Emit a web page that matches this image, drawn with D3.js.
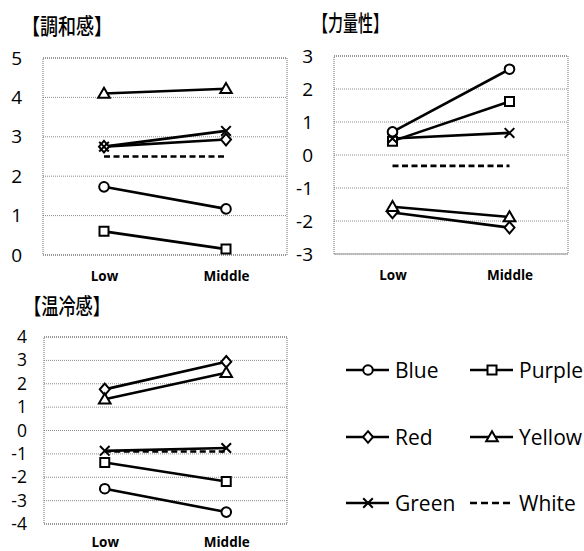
<!DOCTYPE html>
<html>
<head>
<meta charset="utf-8">
<script src="https://cdn.jsdelivr.net/npm/d3@7"></script>
<style>
  html, body { margin: 0; padding: 0; background: #fff; }
  svg { display: block; }
</style>
</head>
<body>
<svg id="chart" width="584" height="551"></svg>
<script>
// ---------- data ----------
const categories = ["Low", "Middle"];
const seriesNames = ["Blue", "Purple", "Red", "Yellow", "Green", "White"];
const seriesMarkers = ["circle", "square", "diamond", "triangle", "cross", "none"];

// values per series (order as seriesNames), [Low, Middle]
const harmonyValues = [[1.73, 1.17], [0.60, 0.15], [2.75, 2.93], [4.10, 4.22], [2.75, 3.15], [2.50, 2.50]];
const potencyValues = [[0.70, 2.60], [0.42, 1.62], [-1.74, -2.20], [-1.57, -1.88], [0.50, 0.67], [-0.33, -0.33]];
const warmthValues  = [[-2.49, -3.49], [-1.37, -2.18], [1.76, 2.94], [1.34, 2.47], [-0.87, -0.75], [-0.90, -0.90]];

const harmonyTicks = [0, 1, 2, 3, 4, 5];
const potencyTicks = [-3, -2, -1, 0, 1, 2, 3];
const warmthTicks  = [-4, -3, -2, -1, 0, 1, 2, 3, 4];

const titles = ["【調和感】", "【力量性】", "【温冷感】"];

// ---------- layout ----------
const svg = d3.select("#chart");

const panels = [
  { title: titles[0], values: harmonyValues, ticks: harmonyTicks, tickFont: 19, xLabelY: 26,
    x0: 43, x1: 287, y0: 58, y1: 255, labelPad: 21, titleX: 22, titleY: 34, titleW: 90 },
  { title: titles[1], values: potencyValues, ticks: potencyTicks, tickFont: 19, xLabelY: 26,
    x0: 334, x1: 568, y0: 56, y1: 254, labelPad: 21, titleX: 313, titleY: 31, titleW: 75 },
  { title: titles[2], values: warmthValues, ticks: warmthTicks, tickFont: 17.5, xLabelY: 23,
    x0: 44, x1: 287, y0: 337, y1: 524, labelPad: 17, titleX: 24, titleY: 314, titleW: 86 }
];

function markerPath(type, cx, cy) {
  const p = d3.path();
  if (type === "circle") {
    p.moveTo(cx + 4.8, cy); p.arc(cx, cy, 4.8, 0, 2 * Math.PI);
  } else if (type === "square") {
    p.rect(cx - 4.5, cy - 4.5, 9, 9);
  } else if (type === "diamond") {
    p.moveTo(cx, cy - 5.8); p.lineTo(cx + 5, cy); p.lineTo(cx, cy + 5.8); p.lineTo(cx - 5, cy); p.closePath();
  } else if (type === "triangle") {
    p.moveTo(cx, cy - 5.8); p.lineTo(cx + 5.8, cy + 4.2); p.lineTo(cx - 5.8, cy + 4.2); p.closePath();
  } else if (type === "cross") {
    p.moveTo(cx - 4.8, cy - 4.8); p.lineTo(cx + 4.8, cy + 4.8);
    p.moveTo(cx + 4.8, cy - 4.8); p.lineTo(cx - 4.8, cy + 4.8);
  }
  return p.toString();
}

panels.forEach(pn => {
  const g = svg.append("g");
  const x = d3.scalePoint().domain(categories).range([pn.x0, pn.x1]).padding(0.5);
  const y = d3.scaleLinear().domain(d3.extent(pn.ticks)).range([pn.y1, pn.y0]);

  // gridlines
  g.selectAll("line.grid").data(pn.ticks).enter().append("line")
    .attr("x1", pn.x0).attr("x2", pn.x1)
    .attr("y1", d => y(d)).attr("y2", d => y(d))
    .attr("stroke", "#8a8a8a").attr("stroke-width", 1).attr("stroke-dasharray", "1,1");
  // frame
  g.append("rect").attr("x", pn.x0).attr("y", pn.y0)
    .attr("width", pn.x1 - pn.x0).attr("height", pn.y1 - pn.y0)
    .attr("fill", "none").attr("stroke", "#6a6a6a").attr("stroke-width", 1).attr("stroke-dasharray", "1,1");

  // y axis labels
  const ya = g.append("g").attr("transform", `translate(${pn.x0},0)`)
    .call(d3.axisLeft(y).tickValues(pn.ticks).tickSize(0).tickPadding(pn.labelPad)
      .tickFormat(d => (d < 0 ? "-" : "") + Math.abs(d)));
  ya.select(".domain").remove();
  ya.selectAll("text").attr("font-family", "'Open Sans', sans-serif").attr("font-size", pn.tickFont).attr("fill", "#000");

  // x axis labels
  const xa = g.append("g").attr("transform", `translate(0,${pn.y1})`)
    .call(d3.axisBottom(x).tickSize(0));
  xa.select(".domain").remove();
  xa.selectAll("text").attr("y", pn.xLabelY).attr("dy", 0)
    .attr("font-family", "'Open Sans', sans-serif").attr("font-size", 13.5).attr("font-weight", "bold").attr("fill", "#000");

  // title
  g.append("text").attr("x", pn.titleX).attr("y", pn.titleY)
    .attr("font-family", "'Noto Sans CJK JP', sans-serif").attr("font-size", 22).attr("font-weight", 500)
    .attr("textLength", pn.titleW).attr("lengthAdjust", "spacingAndGlyphs")
    .text(pn.title);

  // lines
  const line = d3.line().x((d, i) => x(categories[i])).y(d => y(d));
  pn.values.forEach((vals, si) => {
    g.append("path").attr("d", line(vals)).attr("fill", "none")
      .attr("stroke", "#000").attr("stroke-width", 2.6)
      .attr("stroke-dasharray", seriesNames[si] === "White" ? "6,3.5" : null);
  });
  // markers
  pn.values.forEach((vals, si) => {
    const type = seriesMarkers[si];
    if (type === "none") return;
    vals.forEach((v, i) => {
      g.append("path").attr("d", markerPath(type, x(categories[i]), y(v)))
        .attr("fill", type === "cross" ? "none" : "#fff")
        .attr("stroke", "#000").attr("stroke-width", 2);
    });
  });
});

// ---------- legend ----------
const legendCols = [346, 470];
const legendRows = [370, 437, 503];
const leg = svg.append("g");
seriesNames.forEach((name, i) => {
  const lx = legendCols[i % 2], ly = legendRows[Math.floor(i / 2)];
  leg.append("line").attr("x1", lx).attr("x2", lx + 43).attr("y1", ly).attr("y2", ly)
    .attr("stroke", "#000").attr("stroke-width", 2.6)
    .attr("stroke-dasharray", name === "White" ? "7,4" : null);
  const type = seriesMarkers[i];
  if (type !== "none") {
    leg.append("path").attr("d", markerPath(type, lx + 22, ly))
      .attr("fill", type === "cross" ? "none" : "#fff")
      .attr("stroke", "#000").attr("stroke-width", 2);
  }
  leg.append("text").attr("x", lx + 49).attr("y", ly).attr("dy", "0.36em")
    .attr("font-family", "'Open Sans', sans-serif").attr("font-size", 21).attr("fill", "#000")
    .text(name);
});
</script>
</body>
</html>
